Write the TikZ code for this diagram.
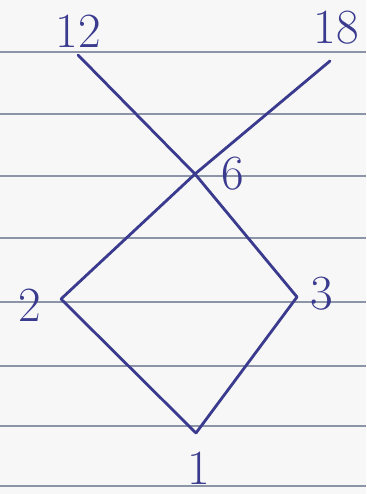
\documentclass[tikz,border=0pt]{standalone}
\usepackage{tikz}
\usetikzlibrary{positioning}
\definecolor{ink}{HTML}{3A3A8E}
\definecolor{rule}{HTML}{8C95A8}
\definecolor{paper}{HTML}{F7F7F7}
\tikzset{
  vtx/.style   = {coordinate},
  num/.style   = {text=ink, inner sep=0pt, font=\fontsize{28}{28}\selectfont},
  edge/.style  = {draw=ink, line width=1.6pt, line cap=round},
  ruled/.style = {draw=rule, line width=0.8pt},
}
\begin{document}
\begin{tikzpicture}[x=0.02cm, y=-0.02cm]

  % paper and ruling
  \fill[paper] (0,0) rectangle (366,494);
  \useasboundingbox (0,0) rectangle (366,494);
  \foreach \y in {52,114,176,238,302,366,426,486}
    \draw[ruled] (0,\y) -- (366,\y);

  % vertices
  \node[vtx] (v12) at (78,55) {};
  \node[vtx] (v18) at (330,61) {};
  \node[vtx] (v6)  at (195,174) {};
  \node[vtx] (v2)  at (61,299) {};
  \node[vtx] (v3)  at (297,297) {};
  \node[vtx] (v1)  at (196,433) {};

  % labels
  \node[num] (l12) at (78,31) {12};
  \node[num] (l18) at (336,28) {18};
  \node[num] (l6)  at (233,174) {6};
  \node[num] (l2)  at (30,305) {2};
  \node[num] (l3)  at (322,294) {3};
  \node[num] (l1)  at (199,468) {1};

  % edges
  \draw[edge] (v12) -- (v6);
  \draw[edge] (v18) -- (v6);
  \draw[edge] (v6) -- (v2);
  \draw[edge] (v6) -- (v3);
  \draw[edge] (v2) -- (v1);
  \draw[edge] (v3) -- (v1);

\end{tikzpicture}
\end{document}
